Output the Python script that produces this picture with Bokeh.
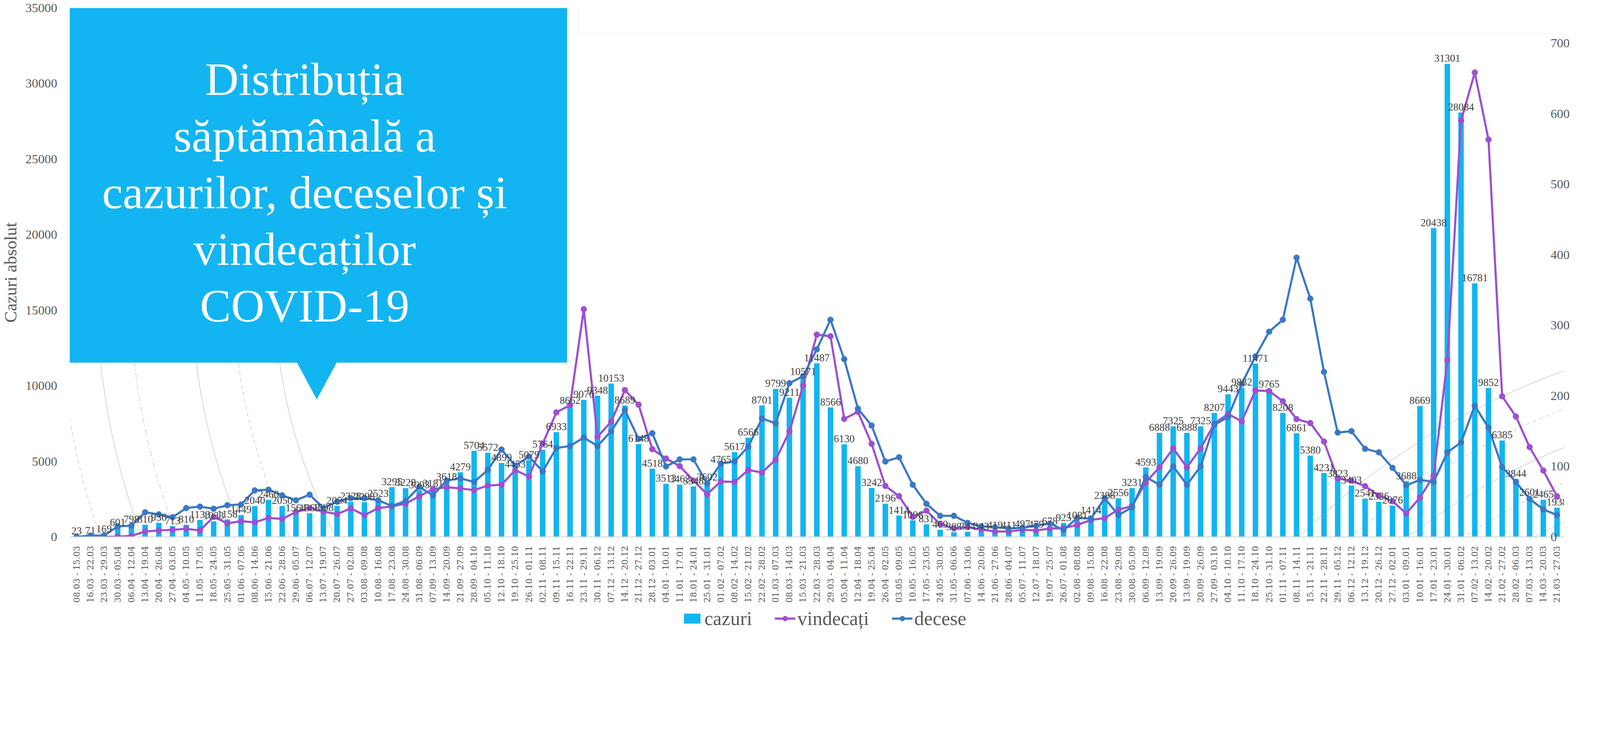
import math
from bokeh.plotting import figure
from bokeh.layouts import column
from bokeh.models import (Range1d, LinearAxis, FixedTicker, Legend, LegendItem,
                          BoxAnnotation, PolyAnnotation, Label, ColumnDataSource)
from bokeh.embed import file_html
from bokeh.resources import INLINE
from bokeh.core.properties import value

weeks = ["08.03 - 15.03","16.03 - 22.03","23.03 - 29.03","30.03 - 05.04","06.04 - 12.04","13.04 - 19.04",
         "20.04 - 26.04","27.04 - 03.05","04.05 - 10.05","11.05 - 17.05","18.05 - 24.05","25.05 - 31.05",
         "01.06 - 07.06","08.06 - 14.06","15.06 - 21.06","22.06 - 28.06","29.06 - 05.07","06.07 - 12.07",
         "13.07 - 19.07","20.07 - 26.07","27.07 - 02.08","03.08 - 09.08","10.08 - 16.08","17.08 - 23.08",
         "24.08 - 30.08","31.08 - 06.09","07.09 - 13.09","14.09 - 20.09","21.09 - 27.09","28.09 - 04.10",
         "05.10 - 11.10","12.10 - 18.10","19.10 - 25.10","26.10 - 01.11","02.11 - 08.11","09.11 - 15.11",
         "16.11 - 22.11","23.11 - 29.11","30.11 - 06.12","07.12 - 13.12","14.12 - 20.12","21.12 - 27.12",
         "28.12 - 03.01","04.01 - 10.01","11.01 - 17.01","18.01 - 24.01","25.01 - 31.01","01.02 - 07.02",
         "08.02 - 14.02","15.02 - 21.02","22.02 - 28.02","01.03 - 07.03","08.03 - 14.03","15.03 - 21.03",
         "22.03 - 28.03","29.03 - 04.04","05.04 - 11.04","12.04 - 18.04","19.04 - 25.04","26.04 - 02.05",
         "03.05 - 09.05","10.05 - 16.05","17.05 - 23.05","24.05 - 30.05","31.05 - 06.06","07.06 - 13.06",
         "14.06 - 20.06","21.06 - 27.06","28.06 - 04.07","05.07 - 11.07","12.07 - 18.07","19.07 - 25.07",
         "26.07 - 01.08","02.08 - 08.08","09.08 - 15.08","16.08 - 22.08","23.08 - 29.08","30.08 - 05.09",
         "06.09 - 12.09","13.09 - 19.09","20.09 - 26.09","13.09 - 19.09","20.09 - 26.09","27.09 - 03.10",
         "04.10 - 10.10","11.10 - 17.10","18.10 - 24.10","25.10 - 31.10","01.11 - 07.11","08.11 - 14.11",
         "15.11 - 21.11","22.11 - 28.11","29.11 - 05.12","06.12 - 12.12","13.12 - 19.12","20.12 - 26.12",
         "27.12 - 02.01","03.01 - 09.01","10.01 - 16.01","17.01 - 23.01","24.01 - 30.01","31.01 - 06.02",
         "07.02 - 13.02","14.02 - 20.02","21.02 - 27.02","28.02 - 06.03","07.03 - 13.03","14.03 - 20.03",
         "21.03 - 27.03"]

cazuri = [23,71,169,601,798,810,936,713,810,1133,
          1033,1158,1449,2040,2460,2050,1564,1568,1598,2054,
          2328,2298,2523,3295,3228,3093,3181,3618,4279,5704,
          5572,4899,4453,5079,5764,6933,8662,9076,9348,10153,
          8689,6148,4518,3513,3463,3348,3602,4765,5617,6566,
          8701,9799,9211,10571,11487,8566,6130,4680,3242,2196,
          1414,1096,831,469,308,344,343,419,411,497,
          479,678,925,1081,1414,2388,2556,3231,4593,6888,
          7325,6888,7325,8207,9443,9882,11471,9765,8208,6861,
          5380,4231,3823,3403,2541,2326,2076,3688,8669,20438,
          31301,28084,16781,9852,6385,3844,2601,2465,1938]

vindecati = [0,0,0,20,70,360,430,470,540,430,
             1330,900,1040,970,1260,1190,1650,1920,1680,1510,
             1890,1440,1910,2020,2200,2690,3170,3290,3210,3100,
             3400,3460,4420,4000,6170,8240,8720,15070,6620,7630,
             9720,8750,5810,5190,4690,3730,2830,3670,3640,4430,
             4260,5110,6970,10010,13390,13280,7810,8280,6160,3380,
             2700,1330,1740,850,560,650,490,360,360,470,
             430,554,576,797,1120,1249,1809,2046,3618,4609,
             5858,4609,5858,7495,8141,7654,9692,9655,8981,7797,
             7538,6311,3877,3726,3360,2735,2369,1551,2606,4049,
             11716,27546,30734,26298,9304,7969,5944,4394,2692]

decese = [0,2,2,15,16,35,32,28,41,43,
          40,45,46,66,67,59,52,60,41,50,
          55,55,52,44,51,71,59,80,83,78,
          95,124,101,114,93,126,129,141,129,150,
          180,139,147,100,110,110,76,104,107,128,
          168,161,218,228,266,308,252,182,158,107,
          113,74,47,30,30,20,15,14,12,13,
          16,19,10,27,26,55,31,42,85,74,
          100,74,100,159,170,217,256,291,308,396,
          338,234,148,150,125,120,98,73,81,78,
          120,134,186,155,99,78,54,39,31]

left_ticks = [0, 5000, 10000, 15000, 20000, 25000, 30000, 35000]
right_ticks = [0, 100, 200, 300, 400, 500, 600, 700]

title_lines = ["Distribuția", "săptămânală a", "cazurilor, deceselor și", "vindecaților", "COVID-19"]
legend_labels = ["cazuri", "vindecați", "decese"]

BAR = "#12B5F1"
PURPLE = "#9D50D1"
BLUE = "#3A78C6"
GREY = "#595959"

# reference-image pixels -> CSS pixels of the page (screenshot is taken at 1.2x)
K = 1.2
S = 1 / K

def cv(v):          # image coordinate -> canvas coordinate
    return v * S - 8

def sz(v):          # image size -> css size
    return v * S

def fs(v):
    return "%.1fpx" % (v * S)

n = len(cazuri)
src = ColumnDataSource(dict(x=list(range(n)), caz=cazuri, vin=vindecati, dec=decese,
                            lab=[str(v) for v in cazuri]))

W, H = 4088, 1551
LH = 64                                              # legend strip height
IMG_L, IMG_T, IMG_R, IMG_B = 205, 33, 4813, 1658     # plot frame in reference pixels
FL, FT, FR, FB = round(cv(IMG_L)), round(cv(IMG_T)), round(cv(IMG_R)), round(cv(IMG_B))

p = figure(width=W, height=H, output_backend="svg", toolbar_location=None,
           x_range=Range1d(-0.5, n - 0.5), y_range=Range1d(0, 35000),
           min_border_left=FL, min_border_right=W - FR, min_border_top=FT,
           min_border_bottom=H - FB)
p.extra_y_ranges = {"dec": Range1d(0, 750)}
p.outline_line_color = None
p.grid.visible = False
p.background_fill_color = "white"
p.border_fill_color = "white"

# decorative background arcs (reference pixels -> data)
def dx(ix):
    return -0.5 + (ix - IMG_L) * n / (IMG_R - IMG_L)

def dy(iy):
    return (IMG_B - iy) * 35000 / (IMG_B - IMG_T)

arc_sets = [
    ((2492, 892), [1649, 1903, 2195], None, math.pi / 2, 3 * math.pi / 2),
    ((2492, 892), [1775, 2314], "10 8", math.pi / 2, 3 * math.pi / 2),
    ((2492, 892), [2092], "14 6 3 6", math.pi / 2, 3 * math.pi / 2),
    ((5592, 3292), [1850, 2060, 2280], None, math.pi / 2, math.pi),
    ((5592, 3292), [1960, 2170], "10 8", math.pi / 2, math.pi),
]
for (acx, acy), radii, dash, a0, a1 in arc_sets:
    kw = dict(line_dash=dash) if dash else {}
    p.arc(x=[dx(acx)] * len(radii), y=[dy(acy)] * len(radii), radius=[sz(r) for r in radii],
          radius_units="screen", start_angle=a0, end_angle=a1,
          line_color="#D2D2D2", line_width=1.8, **kw)

p.vbar(x="x", top="caz", width=0.4, source=src, fill_color=BAR, line_color=None)
p.line("x", "vin", source=src, line_color=PURPLE, line_width=sz(6.5))
p.scatter("x", "vin", source=src, marker="circle", size=sz(18), fill_color=PURPLE, line_color=PURPLE)
p.line("x", "dec", source=src, line_color=BLUE, line_width=sz(6.5), y_range_name="dec")
p.scatter("x", "dec", source=src, marker="circle", size=sz(18), fill_color=BLUE, line_color=BLUE,
          y_range_name="dec")

p.text(x="x", y="caz", text="lab", source=src, text_align="center", text_baseline="alphabetic",
       y_offset=-sz(17), text_font=value("Liberation Serif"), text_font_size=fs(32),
       text_color="#404040")

# axes
xa = p.xaxis[0]
xa.ticker = FixedTicker(ticks=list(range(n)))
xa.major_label_overrides = {i: w for i, w in enumerate(weeks)}
xa.major_label_orientation = math.pi / 2
xa.major_label_text_font = "DejaVu Serif"
xa.major_label_text_font_size = fs(26)
xa.major_label_text_color = GREY
xa.major_label_standoff = round(sz(20))
xa.major_tick_line_color = None
xa.minor_tick_line_color = None
xa.axis_line_color = "#D9D9D9"
xa.axis_line_width = sz(3)

ya = p.yaxis[0]
ya.ticker = FixedTicker(ticks=left_ticks)
ya.major_label_text_font = "Liberation Serif"
ya.major_label_text_font_size = fs(39)
ya.major_label_text_color = GREY
ya.major_label_standoff = round(sz(31))
ya.major_tick_line_color = None
ya.minor_tick_line_color = None
ya.axis_line_color = None
ya.axis_label = "Cazuri absolut"
ya.axis_label_text_font = "Liberation Serif"
ya.axis_label_text_font_size = fs(53)
ya.axis_label_text_font_style = "normal"
ya.axis_label_text_color = GREY
ya.axis_label_standoff = 10

ra = LinearAxis(y_range_name="dec", ticker=FixedTicker(ticks=right_ticks))
ra.major_label_text_font = "Liberation Serif"
ra.major_label_text_font_size = fs(39)
ra.major_label_text_color = GREY
ra.major_label_text_align = "right"
ra.major_label_standoff = round(sz(-48))
ra.major_tick_line_color = None
ra.minor_tick_line_color = None
ra.axis_line_color = None
p.add_layout(ra, "right")

def canvas_box(l, t, r, b, **kw):
    return BoxAnnotation(left=cv(l), right=cv(r), top=cv(t), bottom=cv(b),
                         left_units="canvas", right_units="canvas",
                         top_units="canvas", bottom_units="canvas", **kw)

# top-right frame of another slide element
p.add_layout(canvas_box(1786, -10, 4945, 112, fill_color=None, fill_alpha=0,
                        line_color="#BDE9F8", line_width=sz(3)))

# title callout
p.add_layout(canvas_box(211, 21, 1751, 1123, fill_color=BAR, fill_alpha=1, line_color=None))
p.add_layout(PolyAnnotation(xs=[cv(918), cv(1047), cv(982)], ys=[cv(1116), cv(1116), cv(1236)],
                            xs_units="canvas", ys_units="canvas",
                            fill_color=BAR, fill_alpha=1, line_color=None))
for i, t in enumerate(title_lines):
    p.add_layout(Label(x=cv(945), y=cv(253 + 174 * i), x_units="canvas", y_units="canvas", text=t,
                       text_align="center", text_baseline="alphabetic",
                       text_font="Liberation Serif", text_font_size=fs(143), text_color="white"))

# legend strip under the chart (its own small svg figure; the keys sit outside its ranges)
lf = figure(width=W, height=LH, output_backend="svg", toolbar_location=None,
            x_range=Range1d(0, 1), y_range=Range1d(0, 1),
            x_axis_location=None, y_axis_location=None, min_border=0)
lf.outline_line_color = None
lf.grid.visible = False
kb = lf.vbar(x=[-5], top=[-5], width=0.4, fill_color=BAR, line_color=None)
kvl = lf.line(x=[-5, -4], y=[-5, -5], line_color=PURPLE, line_width=sz(6.5))
kvs = lf.scatter(x=[-5], y=[-5], marker="circle", size=sz(18), fill_color=PURPLE, line_color=PURPLE)
kdl = lf.line(x=[-5, -4], y=[-5, -5], line_color=BLUE, line_width=sz(6.5))
kds = lf.scatter(x=[-5], y=[-5], marker="circle", size=sz(18), fill_color=BLUE, line_color=BLUE)

legend = Legend(items=[LegendItem(label=legend_labels[0], renderers=[kb]),
                       LegendItem(label=legend_labels[1], renderers=[kvl, kvs]),
                       LegendItem(label=legend_labels[2], renderers=[kdl, kds])],
                orientation="horizontal", location=(cv(2111) - 184, 3),
                label_text_font="Liberation Serif", label_text_font_size=fs(60),
                label_text_color=GREY, glyph_width=round(sz(64)), glyph_height=round(sz(38)),
                label_standoff=round(sz(6)), spacing=round(sz(70)), padding=0, margin=0,
                border_line_color=None, background_fill_alpha=0)
lf.add_layout(legend)

open("out.html", "w").write(file_html(column(p, lf, spacing=0), INLINE))
